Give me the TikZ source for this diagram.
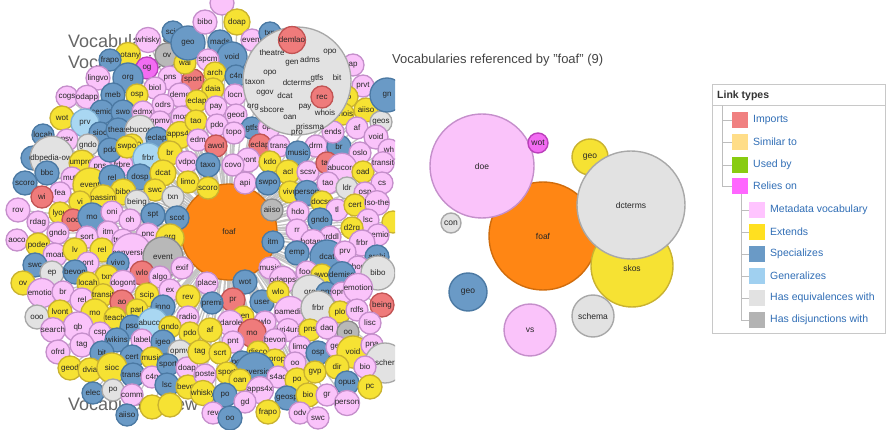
\documentclass[tikz,border=0pt]{standalone}
\usepackage{fontspec}
\setmainfont{Liberation Sans}
\usetikzlibrary{backgrounds}
\definecolor{pkF}{HTML}{FAC3FA}\definecolor{pkD}{HTML}{C58FCB}
\definecolor{yeF}{HTML}{F6E233}\definecolor{yeD}{HTML}{C9B230}
\definecolor{blF}{HTML}{6A9AC6}\definecolor{blD}{HTML}{4B79A3}
\definecolor{lbF}{HTML}{A9D7F2}\definecolor{lbD}{HTML}{7DB0D3}
\definecolor{grF}{HTML}{E2E2E2}\definecolor{grD}{HTML}{A8A8A8}
\definecolor{dgF}{HTML}{B8B8B8}\definecolor{dgD}{HTML}{8C8C8C}
\definecolor{rdF}{HTML}{EF7B7B}\definecolor{rdD}{HTML}{C25454}
\definecolor{mgF}{HTML}{F26CF2}\definecolor{mgD}{HTML}{BB3FBB}
\definecolor{orF}{HTML}{FF8614}\definecolor{orD}{HTML}{D06C0C}
\definecolor{lnkC}{HTML}{2F6DB5}
\definecolor{ttlC}{HTML}{666666}
\definecolor{mttlC}{HTML}{444444}
\definecolor{edgeC}{HTML}{D5D5D5}
\definecolor{cedgeC}{HTML}{C4C4C4}
\definecolor{legD}{HTML}{C8C8C8}
\definecolor{treeC}{HTML}{BDBDBD}
\definecolor{swImp}{HTML}{F08080}
\definecolor{swSim}{HTML}{FFDD88}
\definecolor{swUse}{HTML}{88CC11}
\definecolor{swRel}{HTML}{FF66FF}
\definecolor{swMet}{HTML}{FFC4FF}
\definecolor{swExt}{HTML}{FFE020}
\definecolor{swSpe}{HTML}{6A9AC6}
\definecolor{swGen}{HTML}{A0D0F0}
\definecolor{swEqu}{HTML}{E2E2E2}
\definecolor{swDis}{HTML}{B3B3B3}
\begin{document}
\begin{tikzpicture}[x=1pt,y=-1pt,
  bub/.style={circle,draw,line width=1.3pt,inner sep=0pt,text=black!85,font=\fontsize{8}{9}\selectfont},
  bpk/.style={bub,fill=pkF,draw=pkD},
  bye/.style={bub,fill=yeF,draw=yeD},
  bbl/.style={bub,fill=blF,draw=blD},
  blb/.style={bub,fill=lbF,draw=lbD},
  bgr/.style={bub,fill=grF,draw=grD},
  bdg/.style={bub,fill=dgF,draw=dgD},
  brd/.style={bub,fill=rdF,draw=rdD},
  bmg/.style={bub,fill=mgF,draw=mgD},
  bor/.style={bub,fill=orF,draw=orD},
  mbub/.style={font=\fontsize{8.5}{10}\selectfont,line width=1.4pt},
  bigttl/.style={anchor=west,text=ttlC,font=\fontsize{18}{20}\selectfont,inner sep=0pt},
  hid/.style={inner sep=0pt,text=black!85,font=\fontsize{8}{9}\selectfont},
  edgeM/.style={draw=edgeC,line width=2pt},
  edgeL/.style={draw=cedgeC,line width=1.3pt},
  swatch/.style={minimum size=16pt,inner sep=0pt},
  legtxt/.style={anchor=west,text=lnkC,inner sep=0pt,font=\fontsize{10.5}{12}\selectfont},
  treeln/.style={draw=treeC,line width=0.8pt}
]
\useasboundingbox (0,0) rectangle (895,430);
% ---------------- left cluster ----------------
\begin{scope}
\clip (0,0) rectangle (395,430);
\node[bigttl] (t1) at (68,41) {Vocabularies};
\node[bigttl] (t2) at (68,62) {Vocabularies};
\node[bigttl] (t3) at (68,406) {Vocabulary view};
\node[bor,minimum size=96pt] (foafL) at (229,232) {foaf};
\foreach \x/\y/\r/\s/\t [count=\i] in {
222/3/12/pk/{},173/32/11/bl/scip,148/40/11/pk/whisky,167/55/12/dg/ov,128/55/11/ye/botany,110/60/11/bl/frapo,
147/68/11/mg/og,128/78/15/bl/org,98/78/12/pk/lingvo,170/78/12/pk/pns,155/88/11/pk/biol,193/80/11/rd/sport,
185/63/11/ye/wai,188/43/17/bl/geo,67/97/11/pk/cogs,87/97/11/pk/odapp,113/95/12/bl/meb,137/95/11/ye/osp,
180/95/12/pk/demo,163/105/11/pk/odrs,102/112/12/bl/semio,123/112/12/bl/swo,143/112/11/pk/edmx,
160/122/11/pk/opmv,182/117/11/pk/moat,62/118/12/ye/wot,85/123/14/lb/prv,100/133/11/bl/sioc,
118/130/12/bl/theas,140/130/11/gr/ebucore,43/135/11/bl/locah,67/140/11/pk/psv,88/145/11/gr/gndo,
132/145/11/ye/swpo,157/138/11/bl/eclap,180/135/11/ye/apps4x,
205/22/12/pk/bibo,237/22/13/ye/doap,220/42/12/bl/mads,252/40/11/pk/event,270/33/11/bl/txn,
232/57/15/bl/void,208/60/11/pk/spcm,215/73/11/ye/arch,236/76/11/bl/c4n,213/89/11/ye/daia,
235/95/11/pk/locn,197/101/11/ye/eclap,216/107/11/pk/pay,236/115/11/pk/geod,196/121/11/ye/tao,
217/125/11/pk/pdo,252/128/11/bl/gtfs,269/128/11/pk/opo,234/133/11/pk/topo,198/140/11/pk/edm,
216/146/11/rd/awol,260/145/11/rd/eclap,279/146/11/pk/trans,316/146/11/pk/drm,339/147/12/bl/br,
353/65/11/pk/ap,363/86/11/pk/prvt,347/97/11/ye/so,366/110/12/ye/aiiso,343/114/11/ye/whois,
381/122/11/gr/geos,387/95/17/bl/gn,357/128/11/pk/af,376/137/12/pk/void,389/150/11/pk/wh,333/132/11/pk/ends,
33/158/12/bl/oc,52/158/13/gr/dbpedia-owl,82/163/11/ye/umprot,100/167/11/pk/pns,122/165/11/pk/frbre,
110/150/12/bl/pdo,127/147/11/ye/swpo,148/158/15/lb/frbr,170/153/12/ye/br,187/162/11/pk/vdpo,
47/173/12/bl/bbc,72/178/11/pk/muto,90/185/17/ye/event,112/178/13/bl/rel,140/177/13/bl/dosp,
163/173/13/ye/dcat,188/182/11/ye/limo,25/183/12/bl/scoro,60/193/11/pk/fea,42/197/11/rd/wi,
123/192/13/ye/bibo,155/190/11/ye/swc,173/197/11/gr/txn,103/198/11/ye/passim,80/202/11/ye/vi,
137/202/12/gr/being,18/210/12/pk/rov,60/213/11/ye/lyou,73/220/11/rd/ooo,92/217/14/bl/mo,
112/212/11/pk/oni,130/220/11/pk/oh,153/215/12/bl/spt,177/218/12/bl/scot,38/222/11/pk/rdag,
58/233/11/pk/gndo,87/237/11/pk/sort,108/232/11/pk/itm,123/240/11/pk/traffic,148/235/12/pk/pnc,
170/238/14/ye/org,17/240/11/pk/aoco,38/245/12/ye/poder,55/255/12/pk/moat,75/250/12/ye/lv,
102/250/12/ye/rel,132/253/11/pk/conversion,163/257/20/dg/event,88/263/11/pk/ont,118/263/11/bl/vivo,
35/265/12/bl/swc,52/273/12/gr/ep,75/272/12/bl/bevon,107/277/12/ye/txn,142/273/12/rd/wlo,
160/277/11/pk/algo,182/268/11/pk/exif,23/283/12/ye/ov,88/283/11/ye/locah,123/283/11/pk/dogont,
298/153/12/bl/music,360/153/11/pk/oslo,248/160/12/pk/lvont,208/165/12/bl/taxo,233/165/11/pk/covo,
270/162/11/ye/kdo,288/172/12/ye/acl,308/172/11/pk/scsv,327/163/11/rd/tao,342/168/11/pk/abucore,
363/172/11/ye/oad,383/163/11/pk/transit,208/188/11/ye/scoro,245/183/11/pk/api,268/183/12/bl/swpo,
290/192/11/ye/vivo,307/193/12/bl/person,328/183/11/pk/tao,347/188/11/gr/ldr,382/183/11/pk/cs,
322/202/11/ye/docso,365/193/11/pk/osp,272/210/11/dg/aiiso,298/212/11/pk/hdo,337/210/11/pk/tl,
355/205/11/ye/cert,377/203/11/pk/lso-the,320/220/12/bl/gndo,368/220/11/pk/lsc,393/222/11/ye/{},
297/230/11/pk/rr,352/228/11/ye/d2rq,330/237/11/pk/grddl,378/235/11/pk/semio,273/242/11/bl/itm,
313/242/11/pk/botany,362/243/13/pk/frbr,297/253/12/bl/emp,327/257/17/bl/dcat,345/252/11/pk/prv,
377/257/12/bl/archi,358/267/11/pk/chord,270/268/11/pk/music,307/272/11/pk/food,322/275/11/ye/awol,
342/275/11/bl/demiso,378/273/17/gr/bibo,283/280/11/pk/odapps,245/282/12/bl/wot,207/283/11/pk/place,
42/293/11/pk/emotion,63/292/11/pk/br,82/300/12/pk/rel,103/295/11/ye/transit,122/302/12/rd/ao,
147/295/12/ye/scip,170/290/11/pk/ex,188/297/12/ye/rev,37/317/12/gr/ooo,60/312/12/ye/lvont,
95/313/14/ye/mo,115/318/11/ye/teach,137/310/11/ye/parl,163/307/12/bl/inno,188/317/11/pk/radio,
78/327/15/pk/qb,132/327/12/bl/pso,153/323/12/lb/abucore,170/327/11/ye/gndo,53/330/11/pk/search,
100/333/11/pk/csp,190/333/11/ye/pdo,82/345/12/pk/tag,117/340/12/bl/wikins,142/340/11/pk/label,
163/342/12/bl/igeo,180/352/12/gr/opmv,58/352/12/pk/ofrd,102/353/12/bl/bit,132/357/12/bl/cert,
152/358/11/ye/music,70/368/12/ye/geod,90/370/12/ye/dvia,112/368/15/ye/sioc,133/375/12/bl/transit,
152/377/11/pk/c4n,168/365/11/bl/sport,187/368/11/pk/doap,167/385/12/bl/lsc,188/387/12/ye/bevon,
93/393/11/bl/elec,113/390/11/gr/po,132/395/11/pk/comm,127/415/11/bl/aiiso,152/407/12/ye/{},170/405/12/ye/{},
233/300/12/rd/pr,212/303/11/bl/premi,262/302/12/bl/user,278/292/11/ye/wlo,310/293/18/gr/org,
327/293/11/bl/pns,342/293/11/pk/opmv,358/288/11/pk/emotion,382/305/12/rd/being,243/317/11/ye/gen,
230/323/11/pk/rdarole,210/330/12/ye/af,265/322/11/pk/wlo,290/312/11/pk/oamedia,318/308/17/gr/frbr,
340/312/11/ye/plo,357/310/11/pk/rdfs,370/323/11/pk/lisc,252/333/14/rd/mo,288/330/11/pk/uri4uri,
310/330/11/ye/pns,327/328/11/pk/daq,348/332/11/dg/oo,233/342/11/pk/pnt,275/340/11/pk/bevon,
300/347/11/pk/limo,200/352/12/ye/tag,220/353/11/ye/scrt,258/352/11/ye/disco,318/353/12/bl/osp,
337/347/11/pk/geo,353/352/16/ye/void,372/345/11/pk/pna,242/362/11/bl/poder,275/360/11/ye/oprop,
295/363/11/pk/oo,385/363/20/gr/scher,255/372/12/bl/conversion,227/373/11/ye/sport,205/375/11/pk/poste,
278/377/11/pk/s4ac,297/380/12/ye/po,315/372/11/ye/gvp,337/367/12/ye/dir,365/367/11/pk/bio,
240/380/11/ye/oan,347/383/12/bl/opus,370/387/12/ye/pc,260/390/11/pk/apps4x,203/393/11/ye/whisky,
225/395/12/bl/po,287/398/12/bl/geosp,308/395/12/ye/bio,327/395/11/pk/gr,245/402/11/pk/gd,
347/403/12/pk/person,213/413/11/pk/rev,268/412/12/ye/frapo,300/413/11/pk/odv,318/418/11/pk/swc,
230/418/12/bl/oo}
  {\node[b\s,minimum size=2*\r pt] (L\i) at (\x,\y) {\t}; \xdef\nbub{\i}}
\node[bgr,minimum size=108pt] (dctL) at (297,81) {};
\foreach \x/\y/\t [count=\j] in {272/53/theatre,330/52/opo,292/63/gen,310/60/adms,270/73/opo,
  255/82/taxon,297/83/dcterms,317/78/gtfs,337/78/bit,265/93/ogov,285/96/dcat,253/107/org,
  272/110/sbcore,305/107/pay,290/117/oan,325/113/whois,310/127/prissma,297/133/pro}
  \node[hid] (H\j) at (\x,\y) {\t};
\node[brd,minimum size=20pt] (demlao) at (292,40) {demlao};
\node[brd,minimum size=22pt] (rec) at (322,97) {rec};
\end{scope}
\begin{scope}[on background layer]
\clip (0,0) rectangle (395,430);
\foreach \i in {1,...,\nbub} \draw[edgeL] (foafL.center) -- (L\i.center);
\end{scope}
% ---------------- middle: referenced by foaf ----------------
\node[anchor=west,inner sep=0pt,text=mttlC,font=\fontsize{13}{15}\selectfont] (mtitle) at (392,60) {Vocabularies referenced by "foaf" (9)};
\node[bor,mbub,minimum size=108pt] (foafM) at (543,236) {foaf};
\node[bye,mbub,minimum size=82pt] (skosM) at (632,266) {};
\node[bye,mbub,minimum size=36pt] (geoY) at (590,157) {geo};
\node[bgr,mbub,minimum size=108pt] (dctM) at (631,205) {dcterms};
\node[mbub,inner sep=0pt,text=black!85] (skosLab) at (632,268) {skos};
\node[bpk,mbub,minimum size=104pt] (doeM) at (482,166) {doe};
\node[bmg,mbub,minimum size=20pt] (wotM) at (538,143) {wot};
\node[bgr,mbub,minimum size=20pt] (conM) at (451,223) {con};
\node[bbl,mbub,minimum size=38pt] (geoB) at (468,292) {geo};
\node[bpk,mbub,minimum size=52pt] (vsM) at (530,330) {vs};
\node[bgr,mbub,minimum size=42pt] (schM) at (593,316) {schema};
\begin{scope}[on background layer]
\draw[edgeM] (foafM.center) -- (wotM);
\draw[edgeM] (foafM.center) -- (geoY);
\draw[edgeM] (foafM.center) -- (conM);
\draw[edgeM] (foafM.center) -- (geoB);
\draw[edgeM] (foafM.center) -- (vsM);
\draw[edgeM] (foafM.center) -- (schM);
\end{scope}
% ---------------- legend ----------------
\node[draw=legD,line width=0.8pt,minimum width=173pt,minimum height=249pt,anchor=north west,inner sep=0pt] (legbox) at (712,84) {};
\node[anchor=west,inner sep=0pt,text=black!80,font=\bfseries\fontsize{10.5}{12}\selectfont] (lghead) at (717,96) {Link types};
\coordinate (hdL) at ([yshift=-21pt]legbox.north west);
\coordinate (hdR) at ([yshift=-21pt]legbox.north east);
\draw[legD,line width=0.8pt] (hdL) -- (hdR);
\coordinate (tr1) at (722,106);
\node[swatch,fill=swImp] (s1) at (740,120) {};
\node[swatch,fill=swSim] (s2) at (740,142) {};
\node[swatch,fill=swUse] (s3) at (740,165) {};
\node[swatch,fill=swRel] (s4) at (740,186) {};
\foreach \k in {1,...,4} \draw[treeln] (tr1) |- (s\k.west);
\node[legtxt] (l1) at (753,120) {Imports};
\node[legtxt] (l2) at (753,142) {Similar to};
\node[legtxt] (l3) at (753,165) {Used by};
\node[legtxt] (l4) at (753,186) {Relies on};
\coordinate (tr2) at (741,194);
\node[swatch,fill=swMet] (s5) at (757,210) {};
\node[swatch,fill=swExt] (s6) at (757,232) {};
\node[swatch,fill=swSpe] (s7) at (757,254) {};
\node[swatch,fill=swGen] (s8) at (757,276) {};
\node[swatch,fill=swEqu] (s9) at (757,298) {};
\node[swatch,fill=swDis] (s10) at (757,320) {};
\foreach \k in {5,...,10} \draw[treeln] (tr2) |- (s\k.west);
\node[legtxt] (l5) at (770,210) {Metadata vocabulary};
\node[legtxt] (l6) at (770,232) {Extends};
\node[legtxt] (l7) at (770,254) {Specializes};
\node[legtxt] (l8) at (770,276) {Generalizes};
\node[legtxt] (l9) at (770,298) {Has equivalences with};
\node[legtxt] (l10) at (770,320) {Has disjunctions with};
\end{tikzpicture}
\end{document}
